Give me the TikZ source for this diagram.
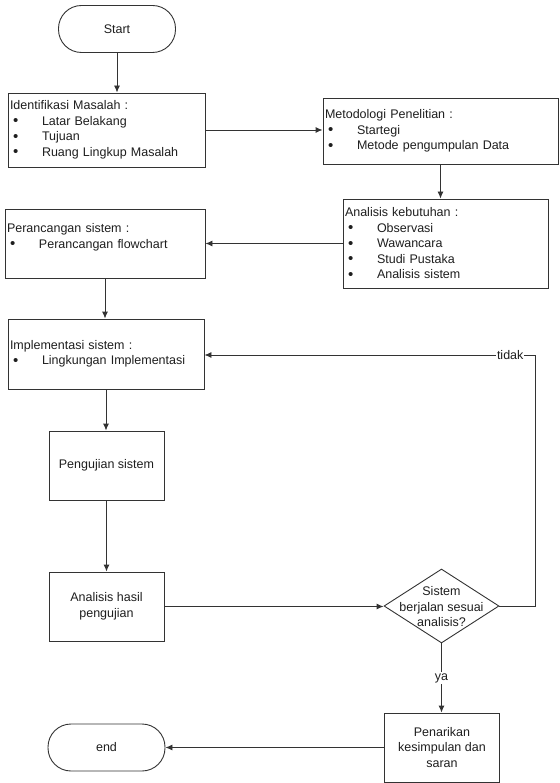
\documentclass[tikz,border=0pt]{standalone}
\usepackage{fontspec}
\setmainfont{Liberation Sans}
\usetikzlibrary{shapes.geometric,arrows.meta}

\definecolor{linec}{HTML}{333333}
\definecolor{txtc}{HTML}{1E1E1E}
\newcommand{\blt}[1]{\hspace*{3pt}\makebox[29pt][l]{\raisebox{-0.5pt}{\fontsize{15}{15}\selectfont\textbullet}}#1}

\begin{document}
\begin{tikzpicture}[x=1pt,y=-1pt,
  every node/.style={font=\fontsize{12.5}{15.5}\selectfont, text=txtc},
  term/.style={draw=linec, line width=0.9pt, rounded corners=23pt, minimum width=117pt, minimum height=47pt},
  lbox/.style={draw=linec, line width=0.9pt, rectangle, align=left, inner xsep=2pt, inner ysep=0pt},
  cbox/.style={draw=linec, line width=0.9pt, align=center, minimum width=115pt, minimum height=69pt, inner sep=2pt},
  decision/.style={draw=linec, line width=0.9pt, diamond, minimum width=115pt, minimum height=74pt, inner sep=0pt},
  tip/.style={color=linec, line width=0.9pt, -{Latex[length=7pt,width=6pt]}},
  lbl/.style={fill=white, inner sep=1pt}]
  \useasboundingbox (0,0) rectangle (559,783);

  \node[term] (start) at (117,29) {Start};
  \node[lbox, text width=193pt, minimum height=74pt] (ident) at (106.5,130)
    {Identifikasi Masalah :\\ \blt{Latar Belakang}\\ \blt{Tujuan}\\ \blt{Ruang Lingkup Masalah}};
  \node[lbox, text width=231pt, minimum height=66pt] (metod) at (440.5,131)
    {Metodologi Penelitian :\\ \blt{Startegi}\\ \blt{Metode pengumpulan Data}};
  \node[lbox, text width=201pt, minimum height=89pt] (kebut) at (445.5,243.5)
    {Analisis kebutuhan :\\ \blt{Observasi}\\ \blt{Wawancara}\\ \blt{Studi Pustaka}\\ \blt{Analisis sistem}};
  \node[lbox, text width=196pt, minimum height=69pt] (rancang) at (105,243.5)
    {Perancangan sistem :\\ \blt{Perancangan flowchart}\\ \mbox{}};
  \node[lbox, text width=192pt, minimum height=70pt] (impl) at (106,354)
    {Implementasi sistem :\\ \blt{Lingkungan Implementasi}};
  \node[cbox] (uji) at (106.5,465.5) {Pengujian sistem};
  \node[cbox] (hasil) at (106.5,606.5) {Analisis hasil\\pengujian};
  \node[decision] (cek) at (441.5,606)
    {\smash{\makebox[0pt]{\raisebox{-5pt}{\begin{tabular}{@{}c@{}}Sistem\\berjalan sesuai\\analisis?\end{tabular}}}}};
  \node[cbox] (tarik) at (442,747.5) {Penarikan\\kesimpulan dan\\saran};
  \node[term] (end) at (106.5,747.5) {end};
  \coordinate (balik) at (535,355);

  \path[tip]
    (start) edge (start |- ident.north)
    (ident.east) edge (ident.east -| metod.west)
    (metod) edge (metod |- kebut.north)
    (kebut.west) edge (rancang.east)
    (rancang) edge (rancang |- impl.north)
    (impl) edge (impl |- uji.north)
    (uji) edge (uji |- hasil.north)
    (hasil) edge (hasil -| cek.west)
    (cek) edge node[lbl] {ya} (cek |- tarik.north)
    (tarik) edge (tarik -| end.east);
  \draw[tip] (cek.east) -| (balik) -- node[lbl, pos=0.075] {tidak} (balik -| impl.east);
\end{tikzpicture}
\end{document}
